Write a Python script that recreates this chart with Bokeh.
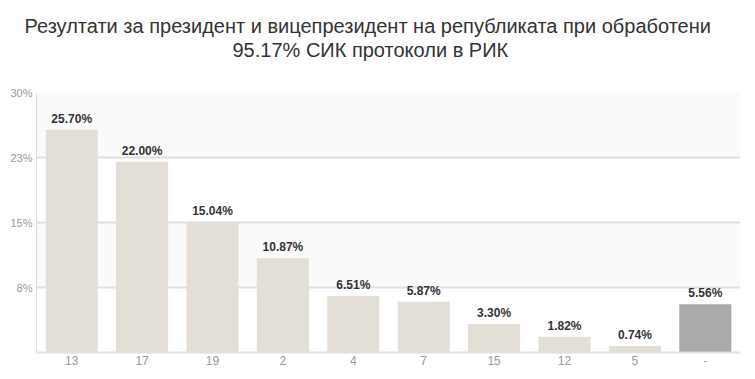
from bokeh.plotting import figure
from bokeh.models import ColumnDataSource, FixedTicker, Title
from bokeh.core.properties import value
from bokeh.embed import file_html
from bokeh.resources import INLINE

title_line1 = "Резултати за президент и вицепрезидент на републиката при обработени"
title_line2 = "95.17% СИК протоколи в РИК"
categories = ["13", "17", "19", "2", "4", "7", "15", "12", "5", "-"]
values = [25.70, 22.00, 15.04, 10.87, 6.51, 5.87, 3.30, 1.82, 0.74, 5.56]
colors = ["#e3dfd7"] * 9 + ["#aaaaaa"]
y_ticks = [7.5, 15, 22.5, 30]
y_tick_labels = {7.5: "8%", 15: "15%", 22.5: "23%", 30: "30%"}

labels = [f"{v:.2f}%" for v in values]
src = ColumnDataSource(dict(cat=categories, val=values, color=colors, label=labels))

FONT = "Liberation Sans"

p = figure(x_range=categories, y_range=(0, 30), width=747, height=371,
           output_backend="svg", toolbar_location=None, title=None,
           min_border_left=36, min_border_right=7, min_border_bottom=19,
           min_border_top=92)
p.outline_line_color = None

p.add_layout(Title(text=title_line2, align="left", text_font=FONT,
                   text_font_size="20px", text_font_style="normal",
                   text_color="#333333", standoff=64, offset=196), "above")
p.add_layout(Title(text=title_line1, align="left", text_font=FONT,
                   text_font_size="20px", text_font_style="normal",
                   text_color="#333333", standoff=-64, offset=-12), "above")

p.vbar(x="cat", top="val", width=0.74, color="color", source=src, line_color=None)
p.text(x="cat", y="val", text="label", source=src, text_align="center",
       text_baseline="bottom", y_offset=-4, text_font=value(FONT),
       text_font_size="12px", text_font_style="bold", text_color="#333333")

p.xgrid.grid_line_color = None
p.ygrid.ticker = FixedTicker(ticks=y_ticks)
p.ygrid.grid_line_color = "#e0e0e0"
p.ygrid.grid_line_width = 2
p.ygrid.band_fill_color = "#fafafa"
p.ygrid.band_fill_alpha = 1

p.yaxis.ticker = FixedTicker(ticks=y_ticks)
p.yaxis.major_label_overrides = y_tick_labels
p.yaxis.axis_line_color = "#e0e0e0"
p.yaxis.major_tick_line_color = None
p.yaxis.minor_tick_line_color = None
p.yaxis.major_tick_out = 0
p.yaxis.minor_tick_out = 0
p.yaxis.major_label_text_color = "#999999"
p.yaxis.major_label_text_font = FONT
p.yaxis.major_label_text_font_size = "11px"
p.yaxis.major_label_standoff = 4

p.xaxis.axis_line_color = "#e0e0e0"
p.xaxis.axis_line_width = 2
p.xaxis.major_tick_line_color = None
p.xaxis.minor_tick_line_color = None
p.xaxis.major_tick_out = 0
p.xaxis.minor_tick_out = 0
p.xaxis.major_label_text_color = "#999999"
p.xaxis.major_label_text_font = FONT
p.xaxis.major_label_text_font_size = "12px"
p.xaxis.major_label_standoff = 3

open("out.html", "w").write(file_html(p, INLINE))
